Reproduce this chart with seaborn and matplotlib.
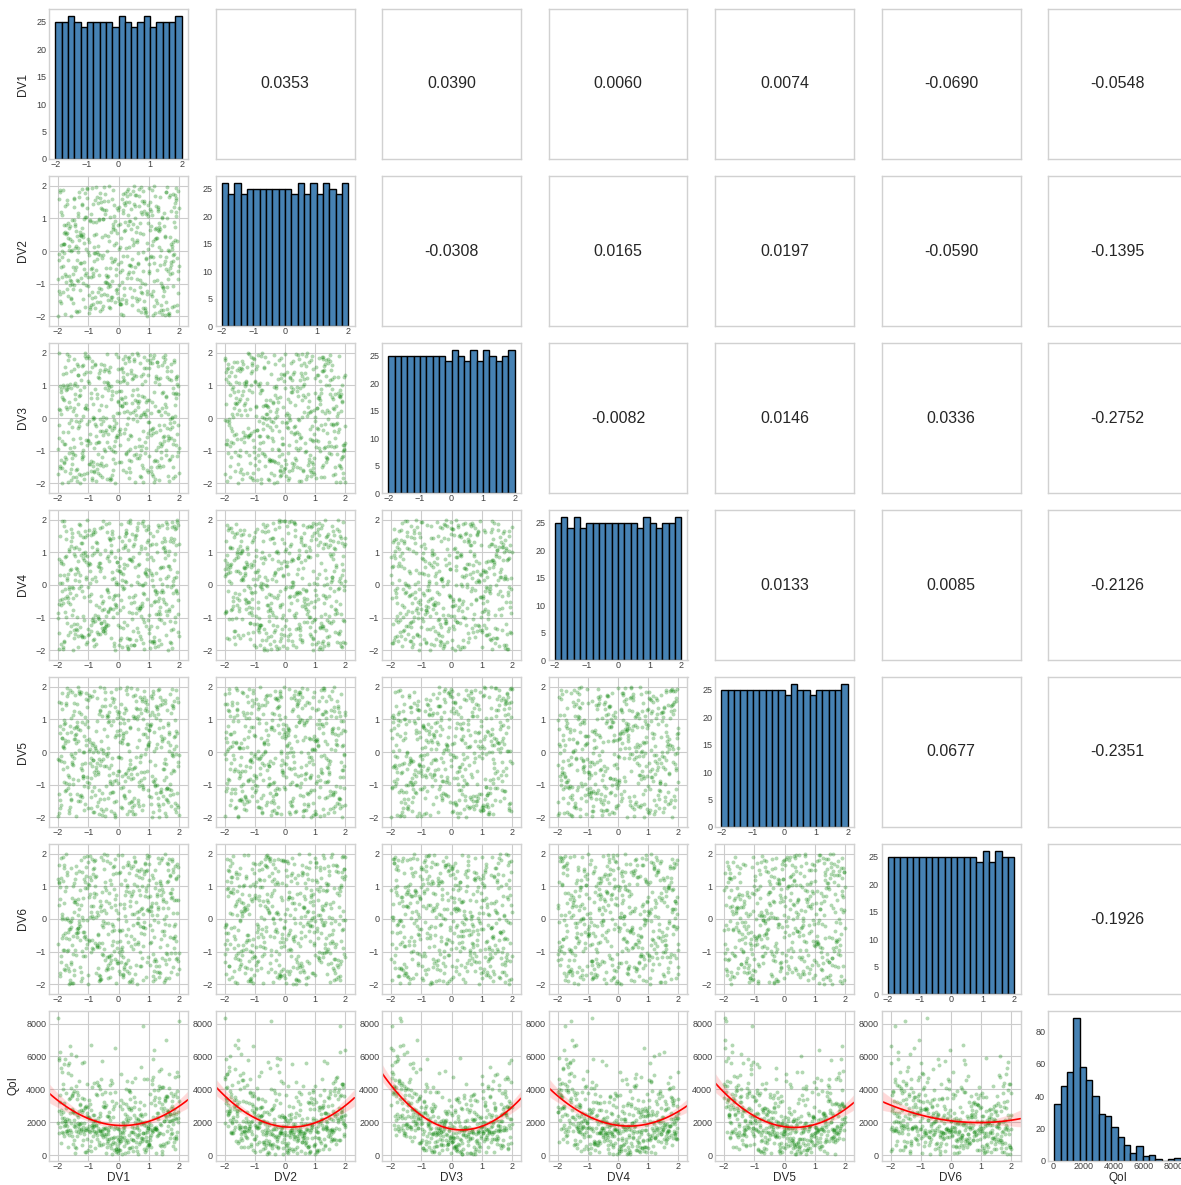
import numpy as np
import pandas as pd
import matplotlib
matplotlib.use("Agg")
import matplotlib.pyplot as plt
import seaborn as sns

# ---------------------------------------------------------------------------
# Data
# ---------------------------------------------------------------------------
var_names = ["DV1", "DV2", "DV3", "DV4", "DV5", "DV6", "QoI"]
n_samples = 500

# Design-variable histograms: 20 bins of width 0.2 on [-2, 2]
dv_range = (-2.0, 2.0)
dv1_counts = [25, 25, 26, 25, 24, 25, 25, 25, 25, 24, 26, 25, 24, 25, 26, 24, 25, 25, 25, 26]
dv2_counts = [26, 24, 26, 24, 25, 25, 25, 25, 25, 25, 25, 24, 26, 24, 26, 24, 26, 25, 24, 26]
dv3_counts = [25, 25, 25, 25, 25, 25, 25, 25, 25, 24, 26, 25, 24, 26, 24, 26, 25, 24, 25, 26]
dv4_counts = [25, 26, 24, 26, 24, 25, 25, 25, 25, 25, 25, 25, 25, 24, 26, 25, 24, 25, 25, 26]
dv5_counts = [25, 25, 25, 25, 25, 25, 25, 25, 25, 25, 24, 26, 25, 25, 24, 25, 25, 25, 25, 26]
dv6_counts = [25, 25, 25, 25, 25, 25, 25, 25, 25, 25, 25, 25, 25, 25, 24, 26, 24, 26, 25, 25]

# Quantity-of-interest histogram: 20 bins
qoi_range = (65.0, 8450.0)
qoi_counts = [35, 46, 55, 88, 58, 50, 40, 29, 28, 21, 15, 10, 5, 9, 3, 4, 1, 0, 1, 2]

# Quadratic QoI trend against each design variable, at DV = -2, 0 and 2
trend_x = [-2.0, 0.0, 2.0]
trend_at_minus2 = [3370, 3620, 4350, 3600, 3810, 3110]
trend_at_zero = [1860, 1720, 1690, 1800, 1720, 2150]
trend_at_plus2 = [3020, 3020, 3020, 2650, 2770, 2190]
unresolved_spread = 1370.0

# Pearson correlations, upper triangle, row by row
corr_row1 = [0.0353, 0.0390, 0.0060, 0.0074, -0.0690, -0.0548]
corr_row2 = [-0.0308, 0.0165, 0.0197, -0.0590, -0.1395]
corr_row3 = [-0.0082, 0.0146, 0.0336, -0.2752]
corr_row4 = [0.0133, 0.0085, -0.2126]
corr_row5 = [0.0677, -0.2351]
corr_row6 = [-0.1926]
corr_rows = [corr_row1, corr_row2, corr_row3, corr_row4, corr_row5, corr_row6]


def stratified(counts, lo, hi):
    """Values spread evenly inside each histogram bin."""
    edges = np.linspace(lo, hi, len(counts) + 1)
    vals = []
    for c, a, b in zip(counts, edges[:-1], edges[1:]):
        if c:
            vals.extend(a + (b - a) * (np.arange(c) + 0.5) / c)
    return np.asarray(vals)


def scramble_order(n, salt):
    """Fixed sample ordering (integer hash of the sample index)."""
    keys = []
    for i in range(n):
        h = ((i + 1) * 0x9E3779B1 + salt * 0x85EBCA77) & 0xFFFFFFFF
        h ^= h >> 16
        h = (h * 0x7FEB352D) & 0xFFFFFFFF
        h ^= h >> 15
        h = (h * 0x846CA68B) & 0xFFFFFFFF
        h ^= h >> 16
        keys.append(h)
    return np.argsort(keys)


dv_counts = [dv1_counts, dv2_counts, dv3_counts, dv4_counts, dv5_counts, dv6_counts]
columns = {}
for k, counts in enumerate(dv_counts):
    columns[var_names[k]] = stratified(counts, *dv_range)[scramble_order(n_samples, k + 1)]

# QoI: sorted histogram values assigned by rank of an additive quadratic score,
# with the score coefficients adjusted until each marginal quadratic fit
# reproduces the trend values above.
targets = [np.polyfit(trend_x, [trend_at_minus2[k], trend_at_zero[k], trend_at_plus2[k]], 2)
           for k in range(6)]
coefs = [t.copy() for t in targets]
hidden = unresolved_spread * stratified([n_samples], -1, 1)[scramble_order(n_samples, 11)]
qoi_sorted = stratified(qoi_counts, *qoi_range)
for _ in range(25):
    score = hidden.copy()
    for k in range(6):
        score += np.polyval(coefs[k], columns[var_names[k]])
    qoi = qoi_sorted[np.argsort(np.argsort(score))]
    for k in range(6):
        fit = np.polyfit(columns[var_names[k]], qoi, 2)
        coefs[k] = coefs[k] + 0.7 * (targets[k] - fit)
columns["QoI"] = qoi
df = pd.DataFrame(columns)

# ---------------------------------------------------------------------------
# Figure
# ---------------------------------------------------------------------------
sns.set_style("whitegrid")
plt.rcParams["font.family"] = ["Liberation Sans", "DejaVu Sans"]
plt.rcParams["xtick.labelsize"] = 6.5
plt.rcParams["ytick.labelsize"] = 6.5
plt.rcParams["xtick.major.pad"] = 1.0
plt.rcParams["ytick.major.pad"] = 2.0

W, H = 1181, 1185
fig = plt.figure(figsize=(W / 100, H / 100), dpi=100)

nv = len(var_names)
col_left, col_step, ax_w = 49, 166.5, 139
row_top, row_step, ax_h = 9, 167, 150
label_kw = dict(fontsize=8.5, color="0.15")

for i in range(nv):
    for j in range(nv):
        left = (col_left + col_step * j) / W
        bottom = 1 - (row_top + row_step * i + ax_h) / H
        ax = fig.add_axes([left, bottom, ax_w / W, ax_h / H])
        for sp in ax.spines.values():
            sp.set_color("0.82")
            sp.set_linewidth(1.0)
        xname, yname = var_names[j], var_names[i]

        if i == j:
            rng = qoi_range if xname == "QoI" else dv_range
            sns.histplot(x=df[xname], ax=ax, bins=20, binrange=rng,
                         color="steelblue", edgecolor="black",
                         linewidth=1.0, alpha=1.0)
            ax.grid(False)
        elif i > j:
            ax.set_xlim(-2.3, 2.3)
            if yname == "QoI":
                sns.regplot(x=df[xname], y=df[yname], ax=ax, order=2,
                            truncate=False, seed=3,
                            scatter_kws=dict(color="green", alpha=0.3, s=8, linewidths=0),
                            line_kws=dict(color="red", lw=1.2))
            else:
                ax.set_ylim(-2.3, 2.3)
                sns.scatterplot(x=df[xname], y=df[yname], ax=ax, color="green",
                                alpha=0.3, s=8, linewidth=0)
        else:
            val = corr_rows[i][j - i - 1]
            ax.text(0.5, 0.5, f"{val:.4f}", transform=ax.transAxes,
                    ha="center", va="center", fontsize=11.5, color="0.15")
            ax.set_xticks([])
            ax.set_yticks([])
            ax.grid(False)

        ax.tick_params(colors="0.25", length=0)
        ax.set_xlabel(xname if i == nv - 1 else "", **label_kw)
        ax.set_ylabel(yname if (j == 0) else "", **label_kw)
        ax.xaxis.labelpad = 0.5
        ax.yaxis.labelpad = 5

fig.savefig("out.png", dpi=100)
